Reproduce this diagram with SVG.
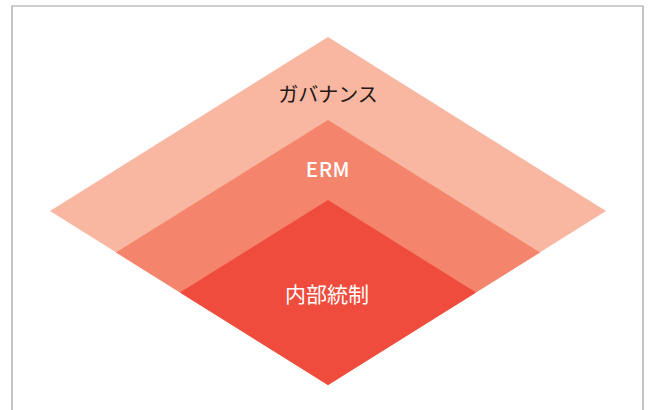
<svg xmlns="http://www.w3.org/2000/svg" width="651" height="410" viewBox="0 0 651 410">
<style>
.lbl{font-family:"Noto Sans CJK JP","Noto Sans",sans-serif;text-anchor:middle}
.frame{fill:none;stroke:#a0a0a0;stroke-width:1.2}
</style>
<rect width="651" height="410" fill="#ffffff"/>
<path class="frame" d="M12,420 V6 H643 V420"/>
<g id="governance">
<polygon points="328,37 606,211 328,385 50,211" fill="#f9b6a0"/>
<text class="lbl" x="328" y="102" font-size="20" fill="#231815">ガバナンス</text>
</g>
<g id="erm">
<polygon points="328,120 540,252.5 328,385 116,252.5" fill="#f4846b"/>
<text class="lbl" x="328" y="176.5" font-size="20.5" font-weight="500" letter-spacing="0.5" fill="#ffffff">ERM</text>
</g>
<g id="internal-control">
<polygon points="328,200 476,292.5 328,385 180,292.5" fill="#ef4c3d"/>
<text class="lbl" x="327" y="302" font-size="21" fill="#ffffff">内部統制</text>
</g>
<g id="connectors"/>
</svg>
